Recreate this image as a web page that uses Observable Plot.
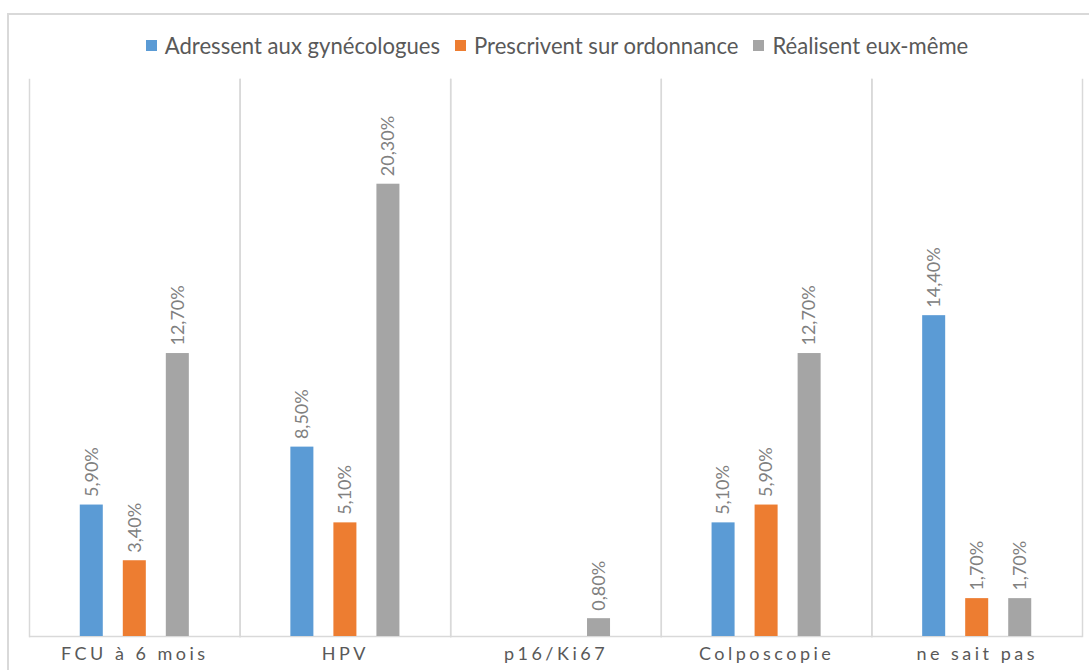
<!DOCTYPE html>
<html><head><meta charset="utf-8">
<script src="https://cdn.jsdelivr.net/npm/d3@7"></script>
<script src="https://cdn.jsdelivr.net/npm/@observablehq/plot@0.6"></script>
<style>
body{margin:0;background:#fff;font-family:Lato,Roboto,sans-serif;}
#wrap{position:absolute;left:7px;top:13px;width:1082px;height:657px;border-left:2px solid #d9d9d9;border-top:2px solid #d9d9d9;box-sizing:border-box;}
#legend{height:60px;display:flex;justify-content:center;align-items:center;gap:15px;padding-left:16px;font-size:22.1px;color:#595959;}
.item{display:flex;align-items:center;gap:8px}
.sw{width:11px;height:11px;display:inline-block}
#chart svg{display:block;overflow:visible}
#chart g[aria-label="fx-axis tick label"] text{letter-spacing:3.5px;}
</style></head>
<body>
<div id="wrap">
<div id="legend"></div>
<div id="chart"></div>
</div>
<script>
const categories = ["FCU à 6 mois", "HPV", "p16/Ki67", "Colposcopie", "ne sait pas"];
const series = ["Adressent aux gynécologues", "Prescrivent sur ordonnance", "Réalisent eux-même"];
const adressent = [5.9, 8.5, null, 5.1, 14.4];
const prescrivent = [3.4, 5.1, null, 5.9, 1.7];
const realisent = [12.7, 20.3, 0.8, 12.7, 1.7];
const colors = ["#5B9BD5", "#ED7D31", "#A5A5A5"];

const valuesBySeries = [adressent, prescrivent, realisent];
const data = [];
categories.forEach((c, i) => {
  series.forEach((s, j) => {
    const v = valuesBySeries[j][i];
    if (v != null) data.push({category: c, series: s, value: v});
  });
});
const fmt = v => v.toFixed(2).replace(".", ",") + "%";

const legend = document.getElementById("legend");
series.forEach((s, j) => {
  const it = document.createElement("div");
  it.className = "item";
  it.innerHTML = `<span class="sw" style="background:${colors[j]}"></span><span>${s}</span>`;
  legend.appendChild(it);
});

const chart = Plot.plot({
  width: 1080, height: 595,
  marginLeft: 20, marginRight: 7, marginTop: 4, marginBottom: 34,
  style: {fontFamily: "Lato, Roboto, sans-serif", fontSize: "18px", color: "#595959", background: "transparent"},
  fx: {domain: categories, padding: 0, round: false, label: null, axis: "bottom", tickSize: 0, tickPadding: 11},
  x: {domain: series, axis: null, round: false, paddingInner: 0.465, paddingOuter: 1.18},
  y: {domain: [0, 25], axis: null},
  color: {domain: series, range: colors},
  marks: [
    Plot.frame({anchor: "left", stroke: "#d9d9d9", strokeWidth: 1.5}),
    Plot.frame({anchor: "right", stroke: "#d9d9d9", strokeWidth: 1.5}),
    Plot.ruleY([0], {stroke: "#d9d9d9", strokeWidth: 1.5}),
    Plot.barY(data, {fx: "category", x: "series", y: "value", fill: "series"}),
    Plot.text(data, {fx: "category", x: "series", y: "value", text: d => fmt(d.value),
      rotate: -90, textAnchor: "start", lineAnchor: "middle", dy: -8, fill: "#808080", fontSize: 18})
  ]
});
document.getElementById("chart").appendChild(chart);
</script>
</body></html>
